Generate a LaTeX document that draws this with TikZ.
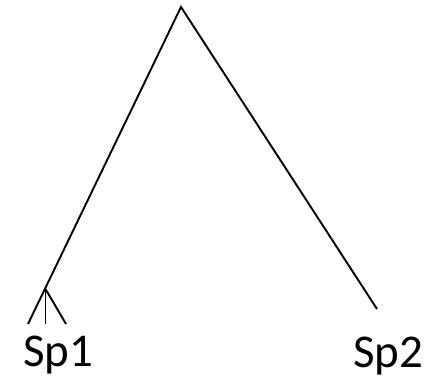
\documentclass[tikz,border=0pt]{standalone}
\usepackage{fontspec}
\setmainfont{Carlito}
\begin{document}
\begin{tikzpicture}[x=1pt,y=-1pt,
  branch/.style={line width=1.9pt},
  lbl/.style={anchor=base west,inner sep=0pt,font=\fontsize{47}{52}\selectfont}]
\useasboundingbox (0,0) rectangle (437,379);
\coordinate (top) at (181,7);
\coordinate (fork) at (45.5,289);
\coordinate (l1) at (28,324);
\coordinate (l2) at (45.5,324);
\coordinate (l3) at (66,324);
\coordinate (r) at (377,309);
\draw[branch] (l1) -- (top) -- (r);
\draw[branch] (fork) -- (l2);
\draw[branch] (fork) -- (l3);
\node[lbl] (sp1) at (23,366.5) {Sp1};
\node[lbl] (sp2) at (353,367.5) {Sp2};
\end{tikzpicture}
\end{document}
